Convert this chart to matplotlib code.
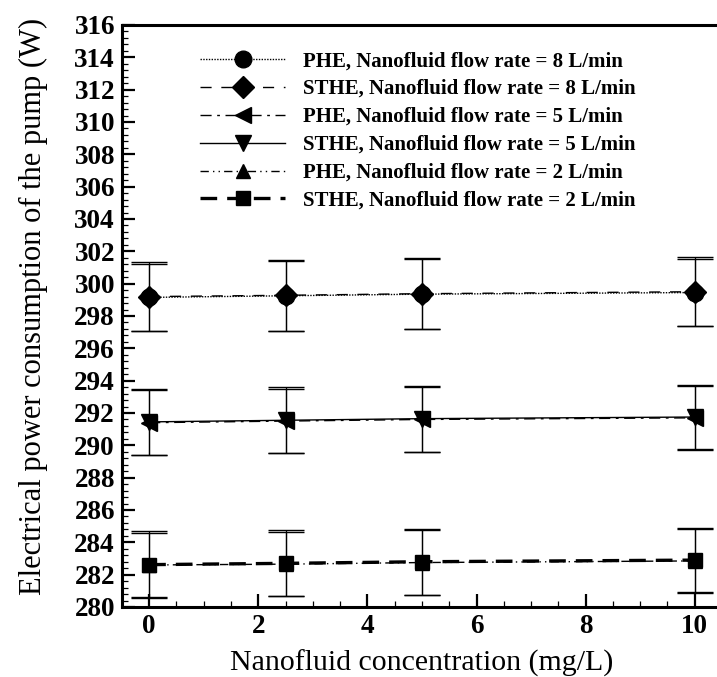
import matplotlib
matplotlib.use("Agg")
import matplotlib.pyplot as plt
from matplotlib.ticker import MultipleLocator

# ---- data ----
conc = [0, 2.5, 5, 10]

phe8 = [299.15, 299.25, 299.35, 299.45]
phe8_err = [2.05, 2.15, 2.15, 2.1]
sthe8 = [299.2, 299.28, 299.38, 299.5]
sthe8_err = [2.15, 2.18, 2.2, 2.15]

phe5 = [291.4, 291.5, 291.6, 291.7]
phe5_err = [2.0, 2.0, 2.0, 2.0]
sthe5 = [291.45, 291.55, 291.65, 291.75]
sthe5_err = [2.05, 2.05, 2.05, 2.0]

phe2 = [282.6, 282.65, 282.75, 282.85]
phe2_err = [2.0, 2.0, 2.0, 2.0]
sthe2 = [282.62, 282.7, 282.8, 282.9]
sthe2_err = [2.05, 2.05, 2.05, 2.0]

labels = [
    "PHE, Nanofluid flow rate = 8 L/min",
    "STHE, Nanofluid flow rate = 8 L/min",
    "PHE, Nanofluid flow rate = 5 L/min",
    "STHE, Nanofluid flow rate = 5 L/min",
    "PHE, Nanofluid flow rate = 2 L/min",
    "STHE, Nanofluid flow rate = 2 L/min",
]
x_ticks = [0, 2, 4, 6, 8, 10]
y_ticks = list(range(280, 317, 2))

series = [phe8, sthe8, phe5, sthe5, phe2, sthe2]
errors = [phe8_err, sthe8_err, phe5_err, sthe5_err, phe2_err, sthe2_err]

styles = [
    dict(marker="o", ms=12, ls=(0, (1, 1)), lw=1.0),
    dict(marker="D", ms=11.5, ls=(0, (8, 7)), lw=1.0),
    dict(marker="<", ms=11, ls=(0, (8, 4, 2, 4)), lw=1.0),
    dict(marker="v", ms=11, ls="-", lw=1.0),
    dict(marker="^", ms=10, ls=(0, (6, 3, 1, 3, 1, 3)), lw=1.0),
    dict(marker="s", ms=10, ls=(0, (5, 3)), lw=2.4),
]

plt.rcParams["font.family"] = ["Liberation Serif", "DejaVu Serif"]

fig = plt.figure(figsize=(7.17, 6.77), dpi=100)
ax = fig.add_axes([0.170, 0.1034, 0.837, 0.8597])

handles = []
for y, e, st, lab in zip(series, errors, styles, labels):
    ax.errorbar(conc, y, yerr=e, fmt="none", ecolor="black", elinewidth=0.9,
                capsize=13, capthick=1.0, zorder=2)
    h, = ax.plot(conc, y, color="black", marker=st["marker"], ms=st["ms"],
                 ls=st["ls"], lw=st["lw"], mfc="black", mec="black", zorder=3,
                 label=lab)
    handles.append(h)

ax.set_xlim(-0.5, 10.5)
ax.set_ylim(280, 316)
ax.set_xticks(x_ticks)
ax.set_yticks(y_ticks)
ax.xaxis.set_minor_locator(MultipleLocator(0.5))
ax.yaxis.set_minor_locator(MultipleLocator(0.4))

ax.tick_params(which="major", direction="in", length=9.5, width=1.6,
               labelsize=19.5, pad=5)
ax.tick_params(which="minor", direction="in", length=4.5, width=0.9)
ax.tick_params(top=False, right=False, which="both")
for lab in ax.get_xticklabels() + ax.get_yticklabels():
    lab.set_fontweight("bold")

for s in ax.spines.values():
    s.set_linewidth(2.2)

ax.set_xlabel("Nanofluid concentration (mg/L)", fontsize=21.5, labelpad=8)
ax.set_ylabel("Electrical power consumption of the pump (W)", fontsize=22,
              labelpad=19)
ax.yaxis.label.set_y(0.517)

leg = ax.legend(handles=handles, loc="upper left",
                bbox_to_anchor=(0.13, 0.955), frameon=False,
                prop=dict(family="Liberation Serif", weight="bold", size=15),
                handlelength=4.1, handletextpad=0.85, labelspacing=0.38,
                borderpad=0, borderaxespad=0)

fig.savefig("out.png", dpi=100)
